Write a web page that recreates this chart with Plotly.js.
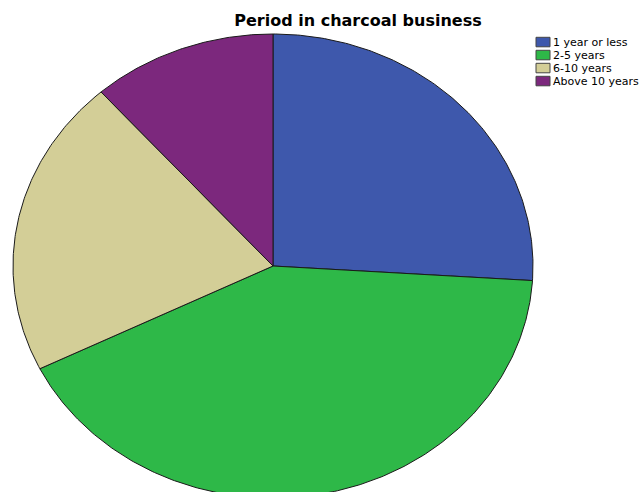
<!DOCTYPE html>
<html>
<head>
<meta charset="utf-8">
<script src="https://cdn.plot.ly/plotly-3.0.1.min.js"></script>
<style>html,body{margin:0;padding:0;background:#fff;}#chart{width:640px;height:492px;}</style>
</head>
<body>
<div id="chart"></div>
<script>
// Data (percent of respondents)
const categories = ["1 year or less", "2-5 years", "6-10 years", "Above 10 years"];
const values = [26.0, 41.7, 20.8, 11.5];
const colors = ["#3E58AC", "#2EB848", "#D3CE97", "#7C287D"];
const chartTitle = "Period in charcoal business";

const W = 640, H = 492;
// Ellipse geometry (pixels) -> axis ranges; radius = 1 unit in each direction
const cx = 273, cy = 266, rx = 260, ry = 232;
const xRange = [-cx / rx, (W - cx) / rx];
const yRange = [-(H - cy) / ry, cy / ry];

const total = values.reduce((a, b) => a + b, 0);
const traces = [];
let cum = 0;
values.forEach((v, i) => {
  const a0 = cum / total * 2 * Math.PI;
  cum += v;
  const a1 = cum / total * 2 * Math.PI;
  const n = Math.max(8, Math.round(v * 6));
  const xs = [0], ys = [0];
  for (let k = 0; k <= n; k++) {
    const a = a0 + (a1 - a0) * k / n;
    xs.push(Math.sin(a));
    ys.push(Math.cos(a));
  }
  xs.push(0); ys.push(0);
  traces.push({
    type: "scatter", mode: "lines", x: xs, y: ys,
    fill: "toself", fillcolor: colors[i],
    line: {color: "#1a1a1a", width: 1},
    name: categories[i], showlegend: false, hoverinfo: "skip"
  });
});

// Custom compact legend
const shapes = [], annotations = [];
const lgX = 536, lgY0 = 37.3, lgStep = 13, swW = 14, swH = 9.5;
categories.forEach((c, i) => {
  const top = lgY0 + i * lgStep;
  shapes.push({
    type: "rect", xref: "paper", yref: "paper",
    x0: lgX / W, x1: (lgX + swW) / W,
    y0: 1 - (top + swH) / H, y1: 1 - top / H,
    fillcolor: colors[i], line: {color: "#444", width: 1}
  });
  annotations.push({
    xref: "paper", yref: "paper", x: (lgX + swW + 1) / W, y: 1 - (top + swH / 2) / H,
    xanchor: "left", yanchor: "middle", showarrow: false,
    text: c, font: {family: "DejaVu Sans, sans-serif", size: 11, color: "#000"}
  });
});

const layout = {
  width: W, height: H,
  margin: {l: 0, r: 0, t: 0, b: 0},
  paper_bgcolor: "#fff", plot_bgcolor: "#fff",
  showlegend: false,
  title: {
    text: "<b>" + chartTitle + "</b>",
    x: 358 / W, xanchor: "center", xref: "paper",
    y: 1 - 20.5 / H, yanchor: "middle", yref: "container",
    font: {family: "DejaVu Sans, sans-serif", size: 16, color: "#000"}
  },
  xaxis: {range: xRange, visible: false, fixedrange: true},
  yaxis: {range: yRange, visible: false, fixedrange: true},
  shapes: shapes, annotations: annotations,
  hovermode: false
};

Plotly.newPlot("chart", traces, layout, {displayModeBar: false, staticPlot: true});
</script>
</body>
</html>
